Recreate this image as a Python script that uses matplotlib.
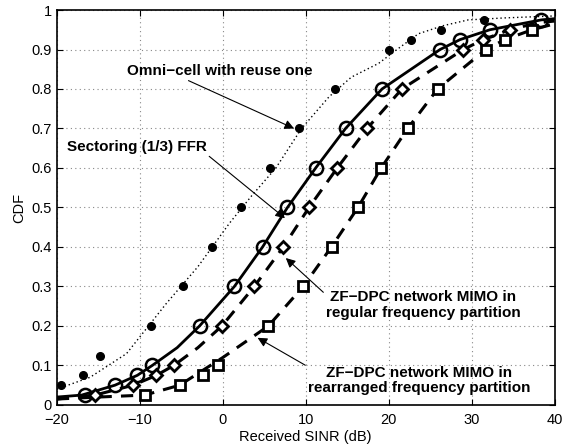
import matplotlib
matplotlib.use("Agg")
import matplotlib.pyplot as plt

plt.rcParams['font.family'] = ['Liberation Sans', 'DejaVu Sans']

# Omni-cell with reuse one (dotted line + dots)
omni_line_x = [-20, -16, -11.6, -6.8, -3, 0.8, 3.5, 6.4, 9.5, 12.8, 15.5, 18.8, 21, 23.6, 26.5, 29.6, 34, 40]
omni_line_y = [0.04, 0.07, 0.13, 0.257, 0.35, 0.46, 0.53, 0.6, 0.7, 0.78, 0.83, 0.865, 0.9, 0.94, 0.96, 0.975, 0.98, 0.985]
omni_pts_x = [-19.5, -16.8, -14.8, -8.7, -4.8, -1.3, 2.2, 5.7, 9.2, 13.5, 20.1, 22.7, 26.3, 31.5]
omni_pts_y = [0.05, 0.075, 0.125, 0.2, 0.3, 0.4, 0.5, 0.6, 0.7, 0.8, 0.9, 0.925, 0.95, 0.975]

# Sectoring (1/3) FFR (solid line + circles)
sect_line_x = [-20, -17, -13, -10.3, -8.5, -5.5, -2.8, 1.4, 4.8, 7.8, 11.2, 14.8, 19.2, 26.2, 28.6, 32.2, 38.4, 40]
sect_line_y = [0.02, 0.025, 0.05, 0.075, 0.1, 0.145, 0.2, 0.3, 0.4, 0.5, 0.6, 0.7, 0.8, 0.9, 0.925, 0.95, 0.975, 0.978]
sect_pts_x = [-16.6, -13.0, -10.3, -8.5, -2.8, 1.4, 4.8, 7.8, 11.2, 14.8, 19.2, 26.2, 28.6, 32.2, 38.4]
sect_pts_y = [0.025, 0.05, 0.075, 0.1, 0.2, 0.3, 0.4, 0.5, 0.6, 0.7, 0.8, 0.9, 0.925, 0.95, 0.975]

# ZF-DPC network MIMO, regular frequency partition (dashed + diamonds)
reg_line_x = [-20, -15.4, -10.8, -8, -5.9, -3, -0.1, 3.8, 7.3, 10.4, 13.8, 17.4, 21.6, 29, 31.4, 34.6, 38, 40]
reg_line_y = [0.015, 0.025, 0.05, 0.075, 0.1, 0.145, 0.2, 0.3, 0.4, 0.5, 0.6, 0.7, 0.8, 0.9, 0.925, 0.95, 0.968, 0.972]
reg_pts_x = [-15.4, -10.8, -8.0, -5.9, -0.1, 3.8, 7.3, 10.4, 13.8, 17.4, 21.6, 29.0, 31.4, 34.6]
reg_pts_y = [0.025, 0.05, 0.075, 0.1, 0.2, 0.3, 0.4, 0.5, 0.6, 0.7, 0.8, 0.9, 0.925, 0.95]

# ZF-DPC network MIMO, rearranged frequency partition (dashed + squares)
rea_line_x = [-20, -15, -9.4, -5.2, 0, 5.5, 9.7, 13.1, 16.3, 19.1, 22.3, 25.9, 31.7, 34, 37.3, 40]
rea_line_y = [0.015, 0.02, 0.025, 0.05, 0.12, 0.2, 0.3, 0.4, 0.5, 0.6, 0.7, 0.8, 0.9, 0.925, 0.95, 0.965]
rea_pts_x = [-9.4, -5.2, -2.4, -0.6, 5.5, 9.7, 13.2, 16.3, 19.1, 22.3, 25.9, 31.7, 34.0, 37.3]
rea_pts_y = [0.025, 0.05, 0.075, 0.1, 0.2, 0.3, 0.4, 0.5, 0.6, 0.7, 0.8, 0.9, 0.925, 0.95]

x_ticks = [-20, -10, 0, 10, 20, 30, 40]
y_ticks = [0, 0.1, 0.2, 0.3, 0.4, 0.5, 0.6, 0.7, 0.8, 0.9, 1]
y_tick_labels = ['0', '0.1', '0.2', '0.3', '0.4', '0.5', '0.6', '0.7', '0.8', '0.9', '1']

fig = plt.figure(figsize=(5.63, 4.45), dpi=100)
ax = fig.add_axes([0.101, 0.09, 0.884, 0.8875])

ax.plot(omni_line_x, omni_line_y, color='black', linestyle=(0, (1, 2.0)), linewidth=1.0)
ax.plot(omni_pts_x, omni_pts_y, linestyle='none', marker='o', markersize=5.5, color='black')

ax.plot(sect_line_x, sect_line_y, color='black', linestyle='-', linewidth=2.0)
ax.plot(sect_pts_x, sect_pts_y, linestyle='none', marker='o', markersize=9.5,
        markerfacecolor='none', markeredgecolor='black', markeredgewidth=1.8)

ax.plot(reg_line_x, reg_line_y, color='black', linestyle=(0, (4, 3)), linewidth=2.2)
ax.plot(reg_pts_x, reg_pts_y, linestyle='none', marker='D', markersize=6.5,
        markerfacecolor='white', markeredgecolor='black', markeredgewidth=2.0)

ax.plot(rea_line_x, rea_line_y, color='black', linestyle=(0, (4, 3)), linewidth=2.2)
ax.plot(rea_pts_x, rea_pts_y, linestyle='none', marker='s', markersize=7.5,
        markerfacecolor='white', markeredgecolor='black', markeredgewidth=2.0)

ax.set_xlim(-20, 40)
ax.set_ylim(0, 1)
ax.set_xticks(x_ticks)
ax.set_yticks(y_ticks)
ax.set_yticklabels(y_tick_labels)
ax.tick_params(direction='in', top=True, right=True, labelsize=10.5, length=4)
ax.tick_params(axis='x', pad=6)
ax.grid(True, linestyle=(0, (1, 3)), color='#888888', linewidth=0.8)
for s in ax.spines.values():
    s.set_linewidth(1.2)
ax.set_xlabel('Received SINR (dB)', fontsize=10.5, labelpad=2)
ax.set_ylabel('CDF', fontsize=10.5, labelpad=4)

arrow = dict(arrowstyle='-|>', color='black', lw=0.8, mutation_scale=14, shrinkA=0, shrinkB=0)
fs = 11
ax.annotate('Omni\u2212cell with reuse one', xy=(8.6, 0.70), xytext=(-0.4, 0.846),
            ha='center', va='center', fontsize=fs, fontweight='bold',
            arrowprops=dict(arrow, relpos=(0.3, 0.0)))
ax.annotate('Sectoring (1/3) FFR', xy=(7.5, 0.473), xytext=(-10.4, 0.653),
            ha='center', va='center', fontsize=fs, fontweight='bold',
            arrowprops=dict(arrow, relpos=(1.0, 0.0)))
ax.annotate('ZF\u2212DPC network MIMO in\nregular frequency partition', xy=(7.6, 0.372), xytext=(24.2, 0.253),
            ha='center', va='center', fontsize=fs, fontweight='bold', linespacing=1.1,
            arrowprops=dict(arrow, relpos=(0.0, 0.85)))
ax.annotate('ZF\u2212DPC network MIMO in\nrearranged frequency partition', xy=(4.2, 0.17), xytext=(23.7, 0.061),
            ha='center', va='center', fontsize=fs, fontweight='bold', linespacing=1.1,
            arrowprops=dict(arrow, relpos=(0.03, 0.85)))

fig.savefig('out.png', dpi=100)
